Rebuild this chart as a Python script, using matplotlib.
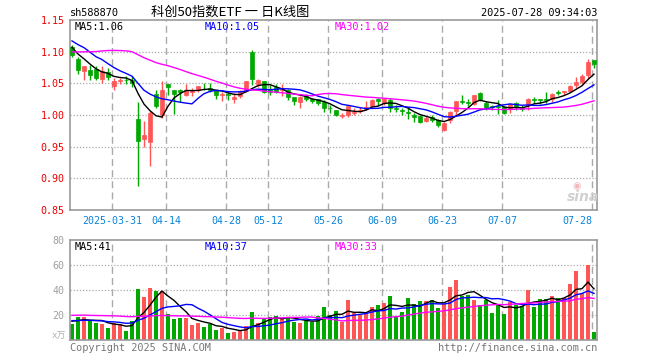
import numpy as np
import matplotlib
matplotlib.use('Agg')
import matplotlib.pyplot as plt

# ---------------- data ----------------
opens = [1.108, 1.0885, 1.0698, 1.0709, 1.0719, 1.0574, 1.0678, 1.0459, 1.0530, 1.0558,
         1.0560, 0.9934, 0.9620, 0.9570, 1.0329, 1.0000, 1.0485, 1.0392, 1.0390, 1.0314,
         1.0366, 1.0400, 1.0418, 1.0420, 1.0400, 1.0314, 1.0330, 1.0256, 1.0298, 1.0376,
         1.0990, 1.0496, 1.0537, 1.0390, 1.0444, 1.0400, 1.0400, 1.0277, 1.0210, 1.0298,
         1.0256, 1.0246, 1.0210, 1.0112, 1.0074, 0.9990, 1.0006, 1.0032, 1.0058, 1.0089,
         1.0136, 1.0256, 1.0188, 1.0230, 1.0115, 1.0074, 1.0042, 0.9996, 0.9985, 0.9902,
         0.9970, 0.9918, 0.9762, 0.9918, 1.0058, 1.0214, 1.0209, 1.0178, 1.0349, 1.0193,
         1.0141, 1.0140, 1.0126, 1.0100, 1.0193, 1.0115, 1.0162, 1.0245, 1.0245, 1.0245,
         1.0256, 1.0360, 1.0360, 1.0386, 1.0474, 1.0516, 1.0630, 1.0864]
highs = [1.111, 1.092, 1.078, 1.0782, 1.0766, 1.078, 1.0745, 1.0589, 1.0590, 1.0610,
         1.0620, 1.0210, 0.9910, 1.0070, 1.0390, 1.0532, 1.0496, 1.0392, 1.0410, 1.0496,
         1.0420, 1.0454, 1.0506, 1.0500, 1.0400, 1.0366, 1.0370, 1.0340, 1.0390, 1.0540,
         1.1026, 1.0574, 1.0540, 1.0470, 1.0496, 1.0485, 1.0418, 1.0280, 1.0300, 1.0330,
         1.0270, 1.0260, 1.0236, 1.0158, 1.0074, 1.0030, 1.0136, 1.0115, 1.0126, 1.0214,
         1.0256, 1.0270, 1.0270, 1.0266, 1.0162, 1.0110, 1.0110, 1.0037, 0.9996, 0.9985,
         0.9996, 0.9944, 0.9892, 1.0058, 1.0224, 1.0318, 1.0256, 1.0318, 1.0360, 1.0214,
         1.0160, 1.0230, 1.0141, 1.0193, 1.0204, 1.0152, 1.0266, 1.0282, 1.0256, 1.0370,
         1.0344, 1.0400, 1.0375, 1.0474, 1.0594, 1.0646, 1.0890, 1.0864]
lows = [1.091, 1.064, 1.0558, 1.0558, 1.056, 1.0506, 1.0548, 1.0392, 1.0496, 1.0485,
        1.0440, 0.8885, 0.9490, 0.9196, 1.0106, 0.9950, 1.0314, 1.0012, 1.0210, 1.0298,
        1.0300, 1.0360, 1.0390, 1.0360, 1.0246, 1.0226, 1.0236, 1.0194, 1.0270, 1.0360,
        1.0480, 1.0444, 1.0340, 1.0310, 1.0340, 1.0298, 1.0236, 1.0158, 1.0106, 1.0225,
        1.0190, 1.0158, 1.0054, 1.0030, 0.9980, 0.9960, 0.9970, 1.0006, 1.0037, 1.0074,
        1.0126, 1.0141, 1.0162, 1.0048, 1.0048, 1.0006, 0.9933, 0.9890, 0.9881, 0.9892,
        0.9892, 0.9814, 0.9746, 0.9881, 1.0006, 1.0172, 1.0141, 1.0162, 1.0214, 1.0074,
        1.0074, 1.0022, 1.0022, 1.0037, 1.0074, 1.0058, 1.0074, 1.0193, 1.0178, 1.0193,
        1.0204, 1.0308, 1.0308, 1.0360, 1.0422, 1.0474, 1.0578, 1.0750]
closes = [1.094, 1.0714, 1.0771, 1.0636, 1.0589, 1.0693, 1.0600, 1.0532, 1.0547, 1.0548,
          1.0500, 0.9586, 0.9680, 1.0028, 1.0147, 1.0392, 1.0444, 1.0330, 1.0370, 1.0402,
          1.0380, 1.0454, 1.0412, 1.0400, 1.0308, 1.0324, 1.0310, 1.0288, 1.0376, 1.0537,
          1.0574, 1.0548, 1.0366, 1.0370, 1.0366, 1.0418, 1.0288, 1.0225, 1.0277, 1.0256,
          1.0225, 1.0194, 1.0106, 1.0106, 1.0006, 1.0000, 1.0136, 1.0048, 1.0074, 1.0126,
          1.0240, 1.0214, 1.0256, 1.0115, 1.0089, 1.0058, 1.0027, 0.9970, 0.9892, 0.9954,
          0.9918, 0.9840, 0.9881, 1.0048, 1.0224, 1.0204, 1.0193, 1.0308, 1.0245, 1.0100,
          1.0126, 1.0126, 1.0037, 1.0178, 1.0126, 1.0100, 1.0245, 1.0230, 1.0240, 1.0235,
          1.0334, 1.0344, 1.0375, 1.0453, 1.0516, 1.0620, 1.0838, 1.0802]
volumes = [13.1, 18.7, 18.7, 14.9, 13.3, 12.5, 9.6, 13.3, 12.5, 7.2,
           14.9, 41.1, 34.4, 41.6, 39.5, 39.2, 21.1, 17.1, 17.9, 17.9,
           12.3, 13.3, 10.7, 12.8, 8.0, 9.6, 5.9, 6.4, 7.7, 11.2,
           22.4, 13.3, 16.5, 18.4, 19.2, 17.3, 18.4, 14.4, 13.3, 14.9,
           14.4, 19.2, 26.4, 19.7, 23.2, 14.4, 32.0, 21.3, 20.0, 21.3,
           26.4, 28.0, 29.6, 35.2, 19.2, 22.4, 33.6, 28.8, 31.2, 31.2,
           32.0, 25.6, 28.8, 42.4, 48.0, 35.2, 35.7, 32.0, 28.0, 32.0,
           21.6, 27.7, 20.8, 30.4, 28.0, 27.2, 40.0, 26.4, 32.8, 32.8,
           35.2, 33.6, 33.6, 44.8, 55.2, 38.0, 60.0, 6.4]
# sessions before the first visible candle (only feed the moving averages)
prior_close = [1.08, 1.07, 1.06, 1.05, 1.04, 1.04, 1.05, 1.06, 1.07, 1.09,
               1.10, 1.11, 1.12, 1.13, 1.12, 1.11, 1.12, 1.13, 1.14, 1.135,
               1.13, 1.125, 1.135, 1.13, 1.115, 1.125, 1.115, 1.105, 1.096]
prior_vol = [15, 18, 20, 17, 14, 13, 16, 19, 18, 19,
             30, 36, 34, 31, 35, 24, 22, 20, 19, 17,
             18, 17, 15, 16, 14, 16, 15, 17, 14]
tick_idx = [7, 16, 26, 33, 43, 52, 62, 72, 87]
tick_labels = ['2025-03-31', '04-14', '04-28', '05-12', '05-26', '06-09', '06-23', '07-07', '07-28']
price_ticks = [0.85, 0.90, 0.95, 1.00, 1.05, 1.10, 1.15]
vol_ticks = [20, 40, 60, 80]

# ---------------- helpers ----------------
def ma(prior, vals, n):
    full = np.array(prior + vals, dtype=float)
    out = np.convolve(full, np.ones(n) / n, mode='valid')
    return out[-len(vals):]

o = np.array(opens); h = np.array(highs); l = np.array(lows); c = np.array(closes)
v = np.array(volumes)
x = np.arange(len(c))
RED = '#ff5555'
GREEN = '#00a800'
cols = [RED if cc >= oo else GREEN for oo, cc in zip(o, c)]

ma5 = ma(prior_close, closes, 5)
ma10 = ma(prior_close, closes, 10)
ma30 = ma(prior_close, closes, 30)
vma5 = ma(prior_vol, volumes, 5)
vma10 = ma(prior_vol, volumes, 10)
vma30 = ma(prior_vol, volumes, 30)

W, H = 660, 360
fig = plt.figure(figsize=(W / 100, H / 100), dpi=100)
fig.patch.set_facecolor('white')
MONO = ['DejaVu Sans Mono', 'Noto Sans CJK SC']
CJK = ['Noto Sans CJK SC', 'DejaVu Sans']

def fx(px): return px / W
def fy(py): return 1 - py / H

ax1 = fig.add_axes([fx(70), fy(210), (597 - 70) / W, (210 - 20) / H])
ax2 = fig.add_axes([fx(70), fy(340), (597 - 70) / W, (340 - 240) / H])

XL = (-0.33, 87.5)
GRIDC = '#aaaaaa'
for ax in (ax1, ax2):
    ax.set_xlim(*XL)
    for s in ax.spines.values():
        s.set_color('#999999')
        s.set_linewidth(1.2)
    for t in tick_idx:
        ax.axvline(t - 0.25, color=GRIDC, ls=(0, (5, 3)), lw=1, zorder=0)
    ax.tick_params(length=0)

# ---------------- price panel ----------------
ax1.set_ylim(0.85, 1.15)
for yv in price_ticks[1:-1]:
    ax1.axhline(yv, color=GRIDC, ls=(0, (1, 1.5)), lw=0.9, zorder=0)
ax1.vlines(x, l, h, colors=cols, lw=1, zorder=2)
ax1.bar(x, np.maximum(np.abs(c - o), 0.0004), bottom=np.minimum(o, c), width=0.72,
        color=cols, edgecolor=cols, linewidth=0.5, zorder=3)
ax1.plot(x, ma5, color='black', lw=1, zorder=4)
ax1.plot(x, ma10, color='#0000ff', lw=1, zorder=4)
ax1.plot(x, ma30, color='#ff00ff', lw=1, zorder=4)
ax1.set_yticks(price_ticks)
ax1.set_yticklabels([f'{t:.2f}' for t in price_ticks], color='#ee0000',
                    fontsize=7.2, family=MONO)
ax1.set_xticks([t - 0.25 for t in tick_idx])
ax1.set_xticklabels(tick_labels, color='#0a84d8', fontsize=7.2, family=MONO)
ax1.get_xticklabels()[-1].set_ha('right')
ax1.tick_params(axis='x', pad=4)
ax1.tick_params(axis='y', pad=4)

# ---------------- volume panel ----------------
ax2.set_ylim(0, 80)
for yv in vol_ticks[:-1]:
    ax2.axhline(yv, color=GRIDC, ls=(0, (1, 1.5)), lw=0.9, zorder=0)
ax2.bar(x, v, width=0.82, color=cols, linewidth=0, zorder=2)
ax2.plot(x, vma5, color='black', lw=1, zorder=4)
ax2.plot(x, vma10, color='#0000ff', lw=1, zorder=4)
ax2.plot(x, vma30, color='#ff00ff', lw=1, zorder=4)
ax2.set_yticks(vol_ticks)
ax2.set_yticklabels([str(t) for t in vol_ticks], color='#a0a0a0', fontsize=7.2, family=MONO)
ax2.set_xticks([])
ax2.tick_params(axis='y', pad=4)

# ---------------- texts ----------------
fig.text(fx(70), fy(13), 'sh588870', ha='left', va='center', fontsize=7.4, family=MONO)
fig.text(fx(230), fy(12), '科创50指数ETF 一 日K线图', ha='center', va='center',
         fontsize=9.5, family=CJK)
fig.text(fx(597), fy(13), '2025-07-28 09:34:03', ha='right', va='center', fontsize=7.4, family=MONO)

fig.text(fx(75), fy(27), f'MA5:{ma5[-1]:.2f}', color='black', ha='left', va='center', fontsize=7.4, family=MONO)
fig.text(fx(205), fy(27), f'MA10:{ma10[-1]:.2f}', color='#0000ff', ha='left', va='center', fontsize=7.4, family=MONO)
fig.text(fx(335), fy(27), f'MA30:{ma30[-1]:.2f}', color='#ff00ff', ha='left', va='center', fontsize=7.4, family=MONO)

fig.text(fx(75), fy(247), f'MA5:{vma5[-1]:.0f}', color='black', ha='left', va='center', fontsize=7.4, family=MONO)
fig.text(fx(205), fy(247), f'MA10:{vma10[-1]:.0f}', color='#0000ff', ha='left', va='center', fontsize=7.4, family=MONO)
fig.text(fx(335), fy(247), f'MA30:{vma30[-1]:.0f}', color='#ff00ff', ha='left', va='center', fontsize=7.4, family=MONO)

fig.text(fx(66), fy(336), 'x万', color='#b0b0b0', ha='right', va='center', fontsize=6.5, family=MONO)
fig.text(fx(70), fy(348), 'Copyright 2025 SINA.COM', color='#777777', ha='left', va='center', fontsize=7.4, family=MONO)
fig.text(fx(597), fy(348), 'http://finance.sina.com.cn', color='#777777', ha='right', va='center', fontsize=7.4, family=MONO)

# sina watermark
fig.text(fx(583), fy(197), 'sina', color='#d0d0d0', ha='center', va='center', fontsize=10,
         fontweight='bold', style='italic', family=['DejaVu Sans'])
fig.text(fx(577), fy(186), '◉', color='#f2b8b8', ha='center', va='center', fontsize=7,
         family=['DejaVu Sans'])

fig.savefig('out.png', dpi=100, facecolor='white')
